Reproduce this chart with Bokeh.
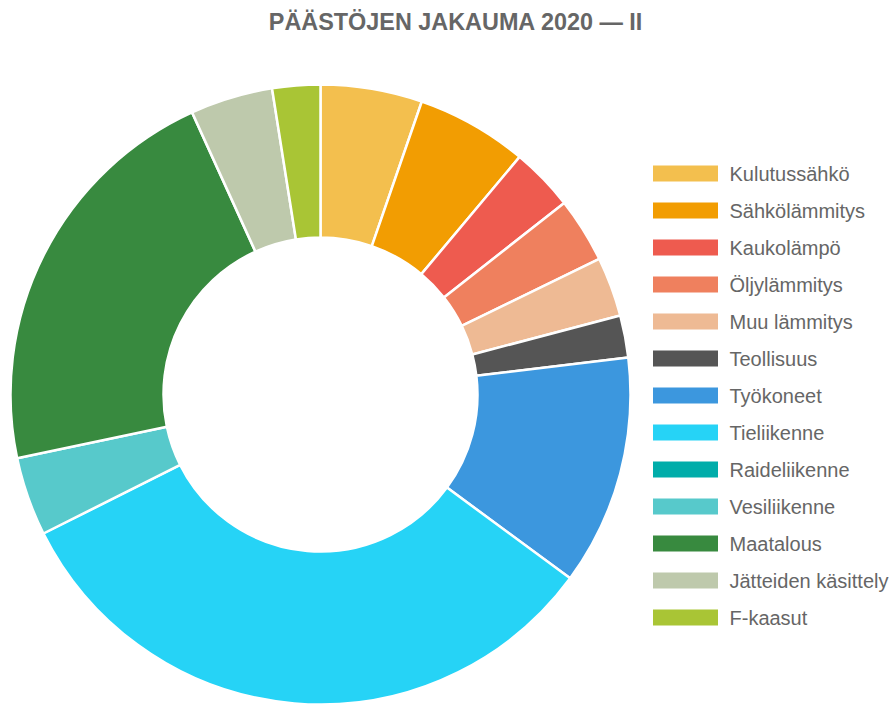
import math
from bokeh.plotting import figure
from bokeh.models import ColumnDataSource, Range1d, CDSView, IndexFilter
from bokeh.core.properties import value
from bokeh.embed import file_html
from bokeh.resources import INLINE

title_text = "PÄÄSTÖJEN JAKAUMA 2020 — II"
categories = ["Kulutussähkö", "Sähkölämmitys", "Kaukolämpö", "Öljylämmitys",
              "Muu lämmitys", "Teollisuus", "Työkoneet", "Tieliikenne",
              "Raideliikenne", "Vesiliikenne", "Maatalous",
              "Jätteiden käsittely", "F-kaasut"]
shares = [5.3, 5.8, 3.3, 3.4, 3.1, 2.2, 12.0, 32.5, 0.0, 4.1, 21.5, 4.3, 2.5]
colors = ["#F3BF4E", "#F29D02", "#EE5B4F", "#EF805E", "#EEBA94", "#555555",
          "#3C97DE", "#26D3F6", "#00ADAA", "#57C9CB", "#388A3F", "#BEC9AC",
          "#A9C535"]

W, H = 891, 706
p = figure(width=W, height=H, output_backend="svg", toolbar_location=None,
           x_range=Range1d(0, W), y_range=Range1d(0, H),
           x_axis_location=None, y_axis_location=None,
           min_border=0, outline_line_color=None)
p.grid.visible = False

# page pixel -> data (1 px per unit)
def dx(px):
    return px
def dy(py):
    return H - py

total = sum(shares)
starts, ends = [], []
acc = 0.0
for s in shares:
    a0 = acc / total * 2 * math.pi
    acc += s
    a1 = acc / total * 2 * math.pi
    starts.append(math.pi / 2 - a0)
    ends.append(math.pi / 2 - a1)

src = ColumnDataSource(dict(cat=categories, share=shares, color=colors,
                            start=starts, end=ends))
nonzero = [i for i, s in enumerate(shares) if s > 0]
cx, cy = dx(320), dy(394)
p.annular_wedge(x=cx, y=cy, inner_radius=157, outer_radius=310,
                start_angle="start", end_angle="end", direction="clock",
                fill_color="color", line_color="white", line_width=2.5,
                source=src, view=CDSView(filter=IndexFilter(nonzero)))

# title
p.text(x=[dx(455.5)], y=[dy(21)], text=[title_text], text_align="center",
       text_baseline="middle", text_font=value("Liberation Sans"),
       text_font_style="bold", text_font_size="23.4px", text_color="#666666")

# legend
ly = [dy(173 + 37 * i) for i in range(len(categories))]
lsrc = ColumnDataSource(dict(cat=categories, color=colors, y=ly))
p.rect(x=dx(685), y="y", width=65, height=16, fill_color="color",
       line_color=None, source=lsrc)
p.text(x=dx(729), y="y", text="cat", text_align="left", text_baseline="middle",
       text_font=value("Liberation Sans"), text_font_size="20px",
       text_color="#666666", source=lsrc)

open("out.html", "w").write(file_html(p, INLINE))
